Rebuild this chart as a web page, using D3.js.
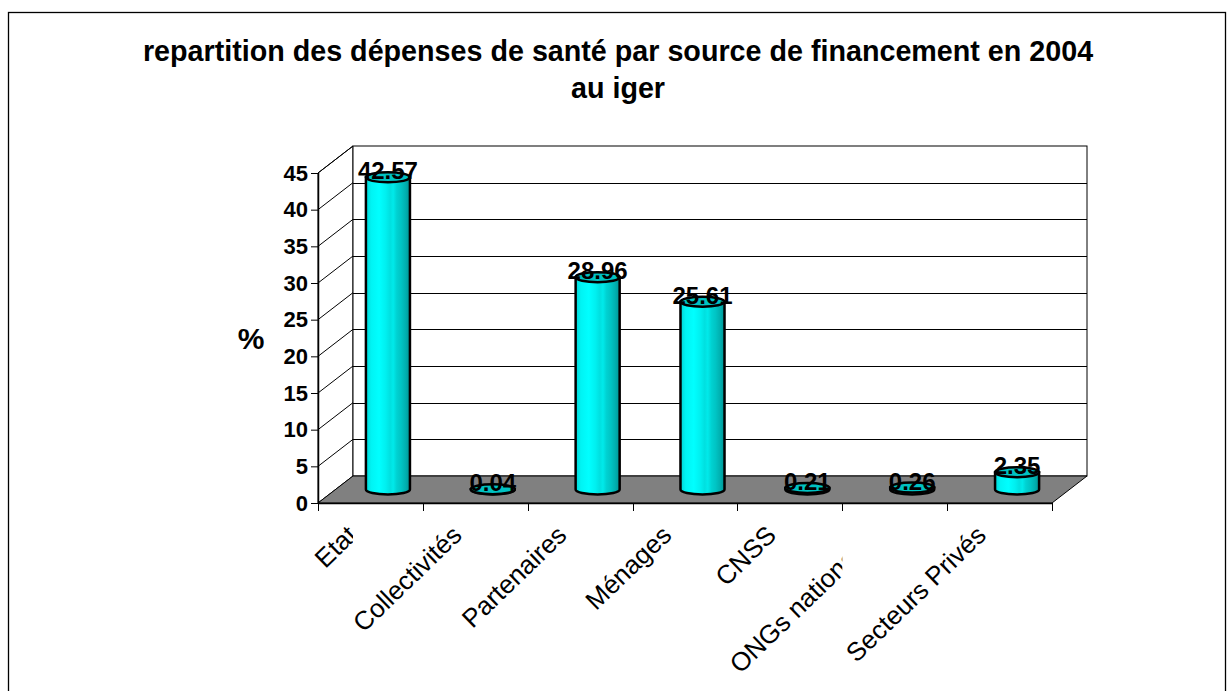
<!DOCTYPE html>
<meta charset="utf-8">
<style>
  body { margin: 0; background: #fff; }
  text { font-family: "Liberation Sans", Arial, sans-serif; }
</style>
<body>
<script src="https://d3js.org/d3.v7.min.js"></script>
<script>
// data
const categories = ["Etat", "Collectivités", "Partenaires", "Ménages", "CNSS", "ONGs nationales", "Secteurs Privés"];
const values = [42.57, 0.04, 28.96, 25.61, 0.21, 0.26, 2.35];
const yTicks = [0, 5, 10, 15, 20, 25, 30, 35, 40, 45];
const titleLines = ["repartition des dépenses de santé par source de financement en 2004", "au iger"];
const yLabel = "%";

const width = 1232, height = 691;

// depth of the 3D box
const dx = 35, dy = -27;

const svg = d3.select("body").append("svg")
    .attr("width", width)
    .attr("height", height);

// outer frame
svg.append("rect")
    .attr("x", 8.5).attr("y", 12.5)
    .attr("width", 1217).attr("height", 690)
    .attr("fill", "#fff").attr("stroke", "#000").attr("stroke-width", 1.3);

// title
svg.append("text")
    .attr("x", 618).attr("y", 61)
    .attr("text-anchor", "middle")
    .style("font-size", "28.7px").style("font-weight", "bold")
  .selectAll("tspan")
  .data(titleLines)
  .join("tspan")
    .attr("x", 618)
    .attr("dy", (d, i) => i ? 37 : 0)
    .text(d => d);

const x = d3.scaleBand().domain(categories).range([318, 1052]);
const y = d3.scaleLinear().domain([0, 45]).range([503, 173]);
const bw = x.bandwidth();
const x0 = x.range()[0], x1 = x.range()[1];

// left side wall
svg.append("path")
    .attr("d", `M${x0},${y(0)}L${x0},${y(45)}L${x0 + dx},${y(45) + dy}L${x0 + dx},${y(0) + dy}Z`)
    .attr("fill", "#fff").attr("stroke", "#000");

// back wall
svg.append("rect")
    .attr("x", x0 + dx).attr("y", y(45) + dy)
    .attr("width", x1 - x0).attr("height", y(0) - y(45))
    .attr("fill", "#fff").attr("stroke", "#000");

// gridlines on back wall and side wall
const grid = svg.append("g").attr("stroke", "#000").attr("stroke-width", 1);
grid.selectAll(".gb")
  .data(yTicks.slice(1, -1))
  .join("line")
    .attr("x1", x0 + dx).attr("x2", x1 + dx)
    .attr("y1", d => Math.round(y(d) + dy) + 0.5)
    .attr("y2", d => Math.round(y(d) + dy) + 0.5);
grid.selectAll(".gs")
  .data(yTicks.slice(1))
  .join("line")
    .attr("x1", x0).attr("y1", d => y(d))
    .attr("x2", x0 + dx).attr("y2", d => y(d) + dy);

// floor
svg.append("path")
    .attr("d", `M${x0},${y(0)}L${x0 + dx},${y(0) + dy}L${x1 + dx},${y(0) + dy}L${x1},${y(0)}Z`)
    .attr("fill", "#808080").attr("stroke", "#000");

// front axis lines
svg.append("line")
    .attr("x1", x0 + 0.5).attr("x2", x0 + 0.5)
    .attr("y1", y(45)).attr("y2", y(0))
    .attr("stroke", "#000").attr("stroke-width", 1.5);
svg.append("line")
    .attr("x1", x0).attr("x2", x1)
    .attr("y1", y(0) + 0.5).attr("y2", y(0) + 0.5)
    .attr("stroke", "#000").attr("stroke-width", 1.5);

// y axis
const yAxis = svg.append("g")
    .attr("transform", `translate(${x0},0)`)
    .call(d3.axisLeft(y).tickValues(yTicks).tickSize(7).tickPadding(3));
yAxis.select(".domain").remove();
yAxis.selectAll("text")
    .attr("fill", "#000")
    .style("font-family", "'Liberation Sans', Arial, sans-serif")
    .style("font-size", "22px").style("font-weight", "bold");
yAxis.selectAll("line").attr("stroke", "#000");

svg.append("text")
    .attr("x", 251).attr("y", 349)
    .attr("text-anchor", "middle")
    .style("font-size", "30px").style("font-weight", "bold")
    .text(yLabel);

// category ticks
svg.append("g").selectAll("line")
  .data(categories.map(c => x(c)).concat([x1]))
  .join("line")
    .attr("x1", d => Math.round(d) + 0.5).attr("x2", d => Math.round(d) + 0.5)
    .attr("y1", y(0)).attr("y2", y(0) + 8)
    .attr("stroke", "#000");

// clipping of the two labels that are cut in the original
const defs = svg.append("defs");
defs.append("clipPath").attr("id", "clipEtat")
  .append("rect").attr("x", 0).attr("y", 0).attr("width", x0 + dx).attr("height", height);
defs.append("clipPath").attr("id", "clipOng")
  .append("rect").attr("x", 0).attr("y", 0).attr("width", x(categories[5])).attr("height", height);

svg.append("g").selectAll("g")
  .data(categories)
  .join("g")
    .attr("clip-path", (d, i) => i === 0 ? "url(#clipEtat)" : i === 5 ? "url(#clipOng)" : null)
  .append("text")
    .attr("transform", d => `translate(${x(d) + bw / 2 - 12},537) rotate(-44)`)
    .attr("text-anchor", "end")
    .style("font-size", "26px")
    .text(d => d);

// cylinder gradient
const grad = defs.append("linearGradient").attr("id", "cyl");
[["0%", "#00d4d4"], ["12%", "#00f4f4"], ["30%", "#00ffff"], ["45%", "#00f0f0"],
 ["55%", "#00e0e0"], ["62%", "#00eaea"], ["70%", "#00d2d2"], ["80%", "#00c4c4"],
 ["90%", "#00b0b0"], ["100%", "#009494"]].forEach(s =>
  grad.append("stop").attr("offset", s[0]).attr("stop-color", s[1]));

const rx = bw * 0.21, ry = 5;
const bars = svg.append("g").selectAll("g")
  .data(categories.map((c, i) => ({ c, v: values[i] })))
  .join("g");

bars.each(function(d) {
  const g = d3.select(this);
  const cx = x(d.c) + bw / 2 + dx / 2;
  const yb = y(0) + dy / 2;
  const yt = y(d.v) + dy / 2;
  g.append("path")
    .attr("d", `M${cx - rx},${yt}L${cx - rx},${yb}A${rx},${ry} 0 0 0 ${cx + rx},${yb}L${cx + rx},${yt}Z`)
    .attr("fill", "url(#cyl)").attr("stroke", "#000").attr("stroke-width", 2.5);
  g.append("ellipse")
    .attr("cx", cx).attr("cy", yt).attr("rx", rx).attr("ry", ry)
    .attr("fill", "#00c2c2").attr("stroke", "#000").attr("stroke-width", 2.5);
  g.append("text")
    .attr("x", cx).attr("y", yt + 2)
    .attr("text-anchor", "middle")
    .style("font-size", "24px").style("font-weight", "bold")
    .text(d3.format(".2f")(d.v));
});
</script>
</body>
